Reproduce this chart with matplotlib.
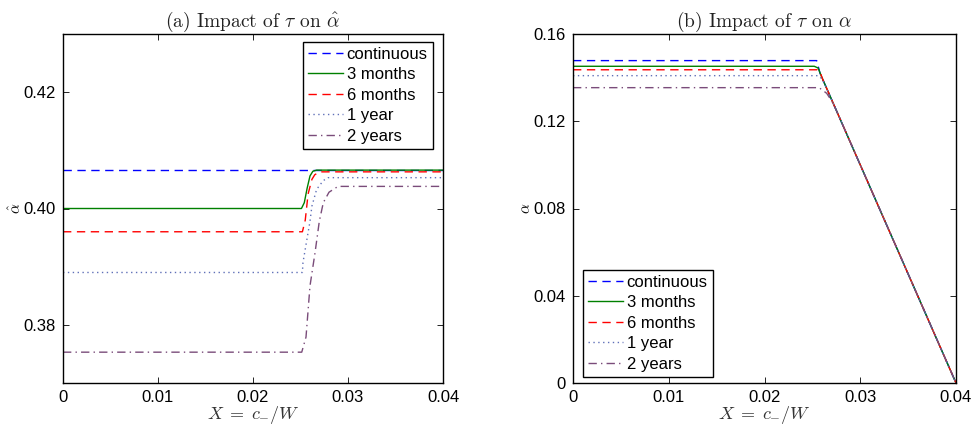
import numpy as np
import matplotlib
matplotlib.use("Agg")
import matplotlib.pyplot as plt

# ---- data ----
LABELS = ["continuous", "3 months", "6 months", "1 year", "2 years"]
COLORS = ["#0000ff", "#008000", "#ff0000", "#6070b8", "#7a4c7a"]
STYLES = [(0, (6, 4)), "-", (0, (6, 4)), (0, (1, 2.5)), (0, (6, 3, 1, 3))]

# panel (a): alpha-hat vs X
a_x_cont = [0.0, 0.04]
a_y_cont = [0.4067, 0.4067]
a_x_3m = [0.0, 0.0251, 0.0254, 0.0257, 0.0260, 0.0263, 0.0267, 0.04]
a_y_3m = [0.4000, 0.4000, 0.4010, 0.4035, 0.4056, 0.4064, 0.4066, 0.4066]
a_x_6m = [0.0, 0.0252, 0.0255, 0.0258, 0.0262, 0.0265, 0.0270, 0.04]
a_y_6m = [0.3960, 0.3960, 0.3980, 0.4025, 0.4050, 0.4058, 0.4063, 0.4063]
a_x_1y = [0.0, 0.0252, 0.02526, 0.0260, 0.0262, 0.0267, 0.0274, 0.0279, 0.04]
a_y_1y = [0.3890, 0.3890, 0.3907, 0.3978, 0.4004, 0.4033, 0.4048, 0.4053, 0.4053]
a_x_2y = [0.0, 0.02513, 0.02558, 0.0260, 0.02653, 0.02698, 0.0274, 0.0280, 0.02895, 0.04]
a_y_2y = [0.3753, 0.3753, 0.3779, 0.3867, 0.3924, 0.3978, 0.4010, 0.4028, 0.4038, 0.4038]

# panel (b): alpha vs X
b_x_cont = [0.0, 0.02545, 0.0258, 0.04]
b_y_cont = [0.1478, 0.1478, 0.1420, 0.0]
b_x_3m = [0.0, 0.0252, 0.0256, 0.0260, 0.04]
b_y_3m = [0.1452, 0.1452, 0.1444, 0.1400, 0.0]
b_x_6m = [0.0, 0.0255, 0.0258, 0.0261, 0.04]
b_y_6m = [0.1436, 0.1436, 0.1425, 0.1390, 0.0]
b_x_1y = [0.0, 0.0256, 0.0260, 0.0264, 0.04]
b_y_1y = [0.1409, 0.1409, 0.1395, 0.1360, 0.0]
b_x_2y = [0.0, 0.0257, 0.0265, 0.0272, 0.04]
b_y_2y = [0.1354, 0.1354, 0.1328, 0.1280, 0.0]

A_SERIES = [(a_x_cont, a_y_cont), (a_x_3m, a_y_3m), (a_x_6m, a_y_6m),
            (a_x_1y, a_y_1y), (a_x_2y, a_y_2y)]
B_SERIES = [(b_x_cont, b_y_cont), (b_x_3m, b_y_3m), (b_x_6m, b_y_6m),
            (b_x_1y, b_y_1y), (b_x_2y, b_y_2y)]

X_TICKS = [0, 0.01, 0.02, 0.03, 0.04]
X_TICKLABELS = ["0", "0.01", "0.02", "0.03", "0.04"]
A_YTICKS = [0.38, 0.40, 0.42]
A_YTICKLABELS = ["0.38", "0.40", "0.42"]
B_YTICKS = [0, 0.04, 0.08, 0.12, 0.16]
B_YTICKLABELS = ["0", "0.04", "0.08", "0.12", "0.16"]

plt.rcParams.update({
    "font.family": ["Liberation Sans", "DejaVu Sans"],
    "mathtext.fontset": "cm",
    "font.size": 12,
    "axes.linewidth": 1.0,
})

fig = plt.figure(figsize=(9.74, 4.29), dpi=100)
ax_a = fig.add_axes([63 / 974, 46 / 429, 380 / 974, 349 / 429])
ax_b = fig.add_axes([573 / 974, 46 / 429, 383 / 974, 349 / 429])

LEG_KW = dict(frameon=True, fancybox=False, edgecolor="black", framealpha=1,
              fontsize=12, handlelength=2.1, handletextpad=0.25, borderpad=0.3,
              labelspacing=0.33, borderaxespad=0.0)


def style_axes(ax):
    ax.tick_params(direction="in", top=True, right=True, length=4,
                   width=0.6, labelsize=12, pad=5)
    ax.set_xlim(0, 0.04)
    ax.set_xticks(X_TICKS)
    ax.set_xticklabels(X_TICKLABELS)
    ax.set_xlabel(r"$X\;=\;c_{-}/W$", fontsize=13, labelpad=-1, color="#333333")


for (x, y), lab, c, ls in zip(A_SERIES, LABELS, COLORS, STYLES):
    ax_a.plot(x, y, color=c, linestyle=ls, linewidth=1.0, label=lab)
style_axes(ax_a)
ax_a.set_ylim(0.37, 0.43)
ax_a.set_yticks(A_YTICKS)
ax_a.set_yticklabels(A_YTICKLABELS)
ax_a.set_ylabel(r"$\hat{\alpha}$", fontsize=11, labelpad=0)
ax_a.set_title(r"(a) Impact of $\tau$ on $\hat{\alpha}$", family="cmr10",
               fontsize=14, pad=5, color="#222222")
ax_a.legend(loc="upper right", bbox_to_anchor=(0.973, 0.978), **LEG_KW)

for (x, y), lab, c, ls in zip(B_SERIES, LABELS, COLORS, STYLES):
    ax_b.plot(x, y, color=c, linestyle=ls, linewidth=1.0, label=lab)
style_axes(ax_b)
ax_b.set_ylim(0, 0.16)
ax_b.set_yticks(B_YTICKS)
ax_b.set_yticklabels(B_YTICKLABELS)
ax_b.set_ylabel(r"$\alpha$", fontsize=11, labelpad=0)
ax_b.set_title(r"(b) Impact of $\tau$ on $\alpha$", family="cmr10",
               fontsize=14, pad=5, color="#222222")
ax_b.legend(loc="lower left", bbox_to_anchor=(0.025, 0.018), **LEG_KW)

fig.savefig("out.png", dpi=100, facecolor="white")
